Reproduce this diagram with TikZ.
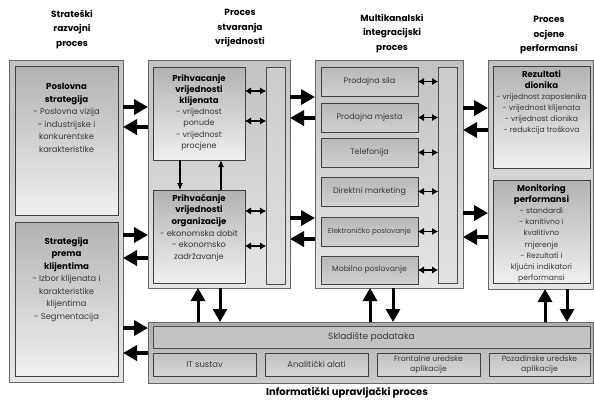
\documentclass[tikz,border=0pt]{standalone}
\usepackage{fontspec}
\setmainfont{Poppins}
\usetikzlibrary{arrows.meta}
\definecolor{gA}{gray}{0.25}
\definecolor{gB}{gray}{0.30}
\definecolor{gC}{gray}{0.40}
\definecolor{gD}{gray}{0.68}
\definecolor{gE}{gray}{0.70}
\definecolor{gF}{gray}{0.72}
\definecolor{gG}{gray}{0.76}
\definecolor{gH}{gray}{0.80}
\definecolor{gI}{gray}{0.82}
\definecolor{gJ}{gray}{0.84}
\definecolor{gK}{gray}{0.88}
\definecolor{gL}{gray}{0.90}
\definecolor{gM}{gray}{0.94}
\definecolor{txt}{gray}{0.22}
\newcommand\mytitlefont{\fontsize{9}{14.5}\selectfont\bfseries}
\newcommand\myhd{\fontsize{8.6}{12}\selectfont\bfseries\color{black}}
\newcommand\mybody{\fontsize{8.3}{12.5}\selectfont}
\newcommand\mychan{\fontsize{8}{10}\selectfont}
\newcommand\mysmall{\fontsize{7.7}{9.6}\selectfont}
\tikzset{
  basebox/.style={anchor=north west, inner sep=0pt, outer sep=0pt, line width=0.8pt},
  outerbox/.style={basebox, draw=gC, top color=gG, bottom color=gL},
  innerbox/.style={basebox, draw=gA, top color=gE, bottom color=gM},
  chanbox/.style={basebox, draw=gA, top color=gF, bottom color=gI, font=\mychan, text=txt},
  barbox/.style={basebox, draw=gB, top color=gH, bottom color=gK},
  infobox/.style={basebox, draw=gC, top color=gD, bottom color=gH},
  skbox/.style={basebox, draw=gB, fill=gG, font=\fontsize{9}{11}\selectfont, text=txt},
  lowbox/.style={basebox, draw=gA, top color=gG, bottom color=gJ, font=\mysmall, text=txt, align=center},
  coltitle/.style={font=\mytitlefont, align=center, inner sep=0pt, anchor=north},
  boxtext/.style={align=center, inner sep=0pt, anchor=north, text=txt, font=\mybody},
  bigarrow/.style={line width=4pt, -{Triangle[length=14pt,width=15pt]}},
  vertarrow/.style={line width=3pt, -{Triangle[length=13pt,width=14pt]}},
  dblarrow/.style={line width=1.6pt, {Latex[length=6pt,width=7.5pt]}-{Latex[length=6pt,width=7.5pt]}},
  thinarrow/.style={line width=1.1pt, -{Latex[length=7pt,width=6pt]}}
}
\begin{document}
\begin{tikzpicture}[x=1pt,y=-1pt]
\useasboundingbox[fill=white] (0,0) rectangle (594,400);

% column titles
\node[coltitle] (t1) at (72,10) {Strateški\\razvojni\\proces};
\node[coltitle] (t2) at (240,9) {Proces\\stvaranja\\vrijednosti};
\node[coltitle] (t3) at (392,14) {Multikanalski\\integracijski\\proces};
\node[coltitle] (t4) at (549,16) {Proces\\ocjene\\performansi};

% column 1
\node[outerbox, minimum width=114, minimum height=322] (c1) at (9,60) {};
\node[innerbox, minimum width=103, minimum height=149] (p1) at (15,66) {};
\node[innerbox, minimum width=103, minimum height=154] (p2) at (15,222) {};
\node[boxtext] (p1t) at ([yshift=-17pt]p1.north) {{\myhd Poslovna}\\{\myhd strategija}\\- Poslovna vizija\\- industrijske i\\konkurentske\\karakteristike};
\node[boxtext] (p2t) at ([yshift=-15pt]p2.north) {{\myhd Strategija}\\{\myhd prema}\\{\myhd klijentima}\\- Izbor klijenata i\\karakteristike\\klijentima\\- Segmentacija};

% column 2
\node[outerbox, minimum width=142, minimum height=228] (c2) at (148,60) {};
\node[innerbox, minimum width=92, minimum height=93] (v1) at (153,67) {};
\node[innerbox, minimum width=92, minimum height=93] (v2) at (153,190) {};
\node[barbox, minimum width=19, minimum height=217] (bar2) at (266,67) {};
\node[boxtext, font=\fontsize{8}{11.2}\selectfont] (v1t) at ([yshift=-7pt]v1.north) {{\myhd Prihvacanje}\\{\myhd vrijednosti}\\{\myhd klijenata}\\- vrijednost\\ponude\\- vrijednost\\procjene};
\node[boxtext, font=\fontsize{8.2}{11.6}\selectfont] (v2t) at ([yshift=-4pt]v2.north) {{\myhd Prihvaćanje}\\{\myhd vrijednosti}\\{\myhd organizacije}\\- ekonomska dobit\\- ekonomsko\\zadržavanje};

% column 3
\node[outerbox, minimum width=148, minimum height=228] (c3) at (315,60) {};
\node[chanbox, minimum width=97, minimum height=29] (m1) at (321,67) {Prodajna sila};
\node[chanbox, minimum width=97, minimum height=29] (m2) at (321,103) {Prodajna mjesta};
\node[chanbox, minimum width=97, minimum height=29] (m3) at (321,138) {Telefonija};
\node[chanbox, minimum width=97, minimum height=29] (m4) at (321,177) {Direktni marketing};
\node[chanbox, minimum width=97, minimum height=29, font=\fontsize{7.1}{9}\selectfont] (m5) at (321,217) {Elektroničko poslovanje};
\node[chanbox, minimum width=97, minimum height=28, font=\fontsize{7.7}{9}\selectfont] (m6) at (321,256) {Mobilno poslovanje};
\node[barbox, minimum width=19, minimum height=216] (bar3) at (438,67) {};

% column 4
\node[outerbox, minimum width=105.6, minimum height=229] (c4) at (488,60) {};
\node[innerbox, minimum width=97, minimum height=102] (r1) at (493,66) {};
\node[innerbox, minimum width=97, minimum height=103] (r2) at (493,180) {};
\node[boxtext, font=\fontsize{7.6}{11}\selectfont] (r1t) at ([yshift=-4pt]r1.north) {{\myhd Rezultati}\\{\myhd dionika}\\- vrijednost zaposlenika\\- vrijednost klijenata\\- vrijednost dionika\\- redukcija troškova};
\node[boxtext, font=\fontsize{7.6}{11.2}\selectfont] (r2t) at ([yshift=-4pt]r2.north) {{\myhd Monitoring}\\{\myhd performansi}\\- standardi\\- kanitivno i\\kvalitivno\\mjerenje\\- Rezultati i\\ključni indikatori\\performansi};

% bottom (information) block
\node[infobox, minimum width=445.6, minimum height=61] (b) at (148,322) {};
\node[skbox, minimum width=437, minimum height=22] (sk) at (153,326) {Skladište podataka};
\node[lowbox, minimum width=103, minimum height=23, font=\fontsize{8.4}{10}\selectfont] (l1) at (153,353) {IT sustav};
\node[lowbox, minimum width=103, minimum height=23, font=\fontsize{8.4}{10}\selectfont] (l2) at (265,353) {Analitički alati};
\node[lowbox, minimum width=103, minimum height=23] (l3) at (377,353) {Frontalne uredske\\aplikacije};
\node[lowbox, minimum width=101, minimum height=23] (l4) at (489,353) {Pozadinske uredske\\aplikacije};
\node[coltitle, font=\fontsize{10}{12}\selectfont\bfseries] (t5) at (347,387) {Informatički upravljački proces};

% big horizontal arrows
\draw[bigarrow] (c1.east |- 0,107) -- (c2.west |- 0,107);
\draw[bigarrow] (c2.west |- 0,127) -- (c1.east |- 0,127);
\draw[bigarrow] (c1.east |- 0,235) -- (c2.west |- 0,235);
\draw[bigarrow] (c2.west |- 0,258) -- (c1.east |- 0,258);
\draw[bigarrow] (c1.east |- 0,328) -- (b.west |- 0,328);
\draw[bigarrow] (b.west |- 0,353) -- (c1.east |- 0,353);
\draw[bigarrow] (c2.east |- 0,97) -- (c3.west |- 0,97);
\draw[bigarrow] (c3.west |- 0,118) -- (c2.east |- 0,118);
\draw[bigarrow] (c2.east |- 0,218) -- (c3.west |- 0,218);
\draw[bigarrow] (c3.west |- 0,239) -- (c2.east |- 0,239);
\draw[bigarrow] (c3.east |- 0,108) -- (c4.west |- 0,108);
\draw[bigarrow] (c4.west |- 0,130) -- (c3.east |- 0,130);
\draw[bigarrow] (c3.east |- 0,213) -- (c4.west |- 0,213);
\draw[bigarrow] (c4.west |- 0,237) -- (c3.east |- 0,237);

% big vertical arrows
\draw[vertarrow] (b.north -| 198,0) -- (c2.south -| 198,0);
\draw[vertarrow] (c2.south -| 220,0) -- (b.north -| 220,0);
\draw[vertarrow] (b.north -| 370,0) -- (c3.south -| 370,0);
\draw[vertarrow] (c3.south -| 393,0) -- (b.north -| 393,0);
\draw[vertarrow] (b.north -| 545,0) -- (c4.south -| 545,0);
\draw[vertarrow] (c4.south -| 567,0) -- (b.north -| 567,0);

% double arrows column 2
\draw[dblarrow] (v1.east |- 0,91) -- (bar2.west |- 0,91);
\draw[dblarrow] (v1.east |- 0,121) -- (bar2.west |- 0,121);
\draw[dblarrow] (v2.east |- 0,211) -- (bar2.west |- 0,211);
\draw[dblarrow] (v2.east |- 0,246) -- (bar2.west |- 0,246);

% double arrows column 3
\draw[dblarrow] (m1.east) -- (bar3.west |- m1.east);
\draw[dblarrow] (m2.east) -- (bar3.west |- m2.east);
\draw[dblarrow] (m3.east) -- (bar3.west |- m3.east);
\draw[dblarrow] (m4.east) -- (bar3.west |- m4.east);
\draw[dblarrow] (m5.east) -- (bar3.west |- m5.east);
\draw[dblarrow] (m6.east) -- (bar3.west |- m6.east);

% thin arrows between value boxes
\draw[thinarrow] ([xshift=-19pt]v1.south) -- ([xshift=-19pt]v2.north);
\draw[thinarrow] ([xshift=22pt]v2.north) -- ([xshift=22pt]v1.south);
\end{tikzpicture}
\end{document}
